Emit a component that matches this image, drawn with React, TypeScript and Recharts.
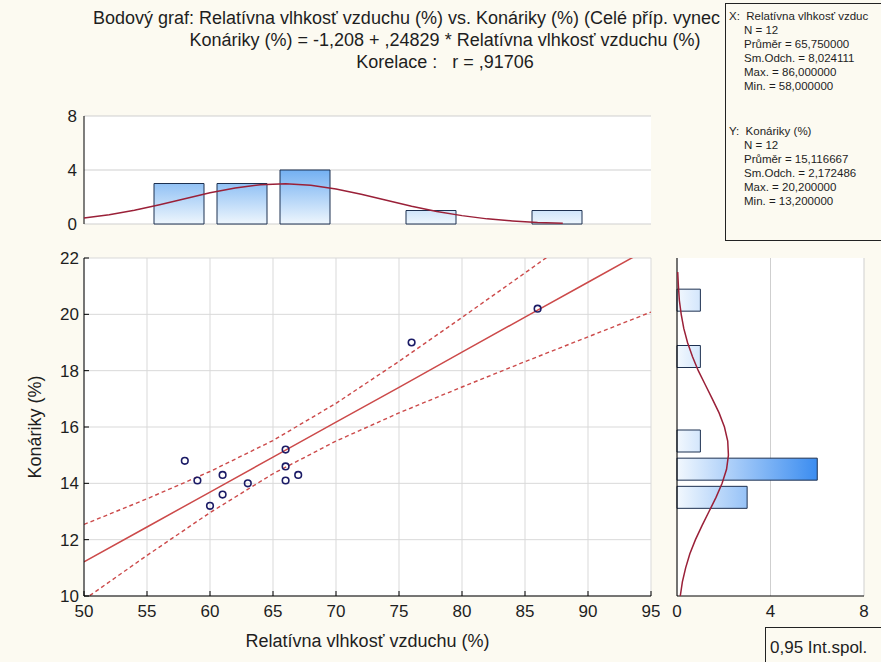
import React from 'react';
import { ComposedChart, Bar, Line, Scatter, XAxis, YAxis, CartesianGrid } from 'recharts';

const FONT = '"Liberation Sans", Arial, sans-serif';
const BG = '#fcfaf1';

// Scatter data: humidity (x) vs. branches (y)
const humidity = [58, 59, 60, 61, 61, 63, 66, 66, 66, 67, 76, 86];
const branches = [14.8, 14.1, 13.2, 14.3, 13.6, 14.0, 15.2, 14.6, 14.1, 14.3, 19.0, 20.2];

const xTicks = [50, 55, 60, 65, 70, 75, 80, 85, 90, 95];
const yTicks = [10, 12, 14, 16, 18, 20, 22];
const xMinorTicks = [51, 52, 53, 54, 56, 57, 58, 59, 61, 62, 63, 64, 66, 67, 68, 69, 71, 72, 73, 74, 76, 77, 78, 79, 81, 82, 83, 84, 86, 87, 88, 89, 91, 92, 93, 94];
const yMinorTicks = [11, 13, 15, 17, 19, 21];

// Regression line and 0.95 confidence band
const fitX = [50, 55, 60, 65, 70, 75, 80, 85, 90, 95];
const fitY = [11.21, 12.45, 13.69, 14.93, 16.17, 17.41, 18.66, 19.9, 21.14, 22.38];
const upperY = [12.54, 13.45, 14.42, 15.52, 16.84, 18.33, 19.89, 21.47, 23.07, 24.68];
const lowerY = [9.87, 11.44, 12.96, 14.34, 15.5, 16.5, 17.42, 18.32, 19.2, 20.08];

// Top histogram (humidity)
const xBinCenters = [57.5, 62.5, 67.5, 77.5, 87.5];
const xBinCounts = [3, 3, 4, 1, 1];
const xCurveX = [50, 52, 54, 56, 58, 60, 62, 64, 66, 68, 70, 72, 74, 76, 78, 80, 82, 84, 86, 88];
const xCurveV = [0.44, 0.69, 1.02, 1.43, 1.87, 2.31, 2.67, 2.91, 2.98, 2.87, 2.59, 2.2, 1.76, 1.32, 0.93, 0.62, 0.38, 0.23, 0.12, 0.06];
const topCountTicks = [0, 4, 8];

// Right histogram (branches)
const yBinCenters = [13.5, 14.5, 15.5, 18.5, 20.5];
const yBinCounts = [3, 6, 1, 1, 1];
const yCurveY = [10, 10.5, 11, 11.5, 12, 12.5, 13, 13.5, 14, 14.5, 15, 15.5, 16, 16.5, 17, 17.5, 18, 18.5, 19, 19.5, 20, 20.5, 21, 21.5];
const yCurveV = [0.14, 0.23, 0.37, 0.55, 0.79, 1.07, 1.37, 1.67, 1.93, 2.12, 2.2, 2.17, 2.03, 1.8, 1.51, 1.21, 0.91, 0.66, 0.45, 0.29, 0.18, 0.1, 0.06, 0.03];
const rightCountTicks = [0, 4, 8];

const pointRows = humidity.map((x, i) => ({ x, y: branches[i] }));
const fitRows = fitX.map((x, i) => ({ x, fit: fitY[i], upper: upperY[i], lower: lowerY[i] }));
const xBinRows = xBinCenters.map((x, i) => ({ x, count: xBinCounts[i] }));
const xCurveRows = xCurveX.map((x, i) => ({ x, v: xCurveV[i] }));
const yBinRows = yBinCenters.map((y, i) => ({ y, count: yBinCounts[i] }));
const yCurveRows = yCurveY.map((y, i) => ({ y, v: yCurveV[i] }));

const TICK_FS = 17;
const tickStyle = { fill: '#1e1e1e', fontSize: TICK_FS, fontFamily: FONT };
const noShape = () => <g />;
const ringShape = (p: any) => (
  <circle cx={p.cx} cy={p.cy} r={3.3} fill="none" stroke="#1b1b66" strokeWidth={1.6} />
);

const RED = '#cc4a4a';
const CURVE = '#9a2038';
const GRID = '#d9d9d9';

function MainChart() {
  return (
    <ComposedChart width={660} height={422} data={fitRows} margin={{ top: 18, right: 9, bottom: 0, left: 20 }}>
      <CartesianGrid stroke={GRID} fill="#fff" fillOpacity={1} />
      <XAxis xAxisId="mb" dataKey="x" type="number" domain={[50, 95]} ticks={xMinorTicks} allowDataOverflow height={0} tick={false} axisLine={false} tickSize={-2.5} stroke="#333" />
      <XAxis
        dataKey="x" type="number" domain={[50, 95]} ticks={xTicks} allowDataOverflow height={66}
        tickSize={-5} tickMargin={14} stroke="#000" tick={tickStyle}
        label={{ value: 'Relatívna vlhkosť vzduchu (%)', position: 'insideBottom', offset: 15, fill: '#1e1e1e', fontSize: 18, fontFamily: FONT }}
      />
      <XAxis xAxisId="t" dataKey="x" orientation="top" type="number" domain={[50, 95]} ticks={xTicks} allowDataOverflow height={0} tick={false} tickSize={-5} stroke="#000" />
      <XAxis xAxisId="mt" dataKey="x" orientation="top" type="number" domain={[50, 95]} ticks={xMinorTicks} allowDataOverflow height={0} tick={false} axisLine={false} tickSize={-2.5} stroke="#333" />
      <YAxis yAxisId="ml" type="number" domain={[10, 22]} ticks={yMinorTicks} allowDataOverflow width={0} tick={false} axisLine={false} tickSize={-2.5} stroke="#333" />
      <YAxis
        type="number" domain={[10, 22]} ticks={yTicks} allowDataOverflow width={64}
        tickSize={-5} tickMargin={10} stroke="#000" tick={tickStyle}
        label={{ value: 'Konáriky (%)', angle: -90, position: 'insideLeft', offset: 15, fill: '#1e1e1e', fontSize: 18, fontFamily: FONT, style: { textAnchor: 'middle' } }}
      />
      <YAxis yAxisId="r" orientation="right" type="number" domain={[10, 22]} ticks={yTicks} allowDataOverflow width={0} tick={false} tickSize={-5} stroke="#000" />
      <YAxis yAxisId="mr" orientation="right" type="number" domain={[10, 22]} ticks={yMinorTicks} allowDataOverflow width={0} tick={false} axisLine={false} tickSize={-2.5} stroke="#333" />
      <Line dataKey="upper" type="linear" stroke={RED} strokeWidth={1.4} strokeDasharray="4 3" dot={false} isAnimationActive={false} />
      <Line dataKey="lower" type="linear" stroke={RED} strokeWidth={1.4} strokeDasharray="4 3" dot={false} isAnimationActive={false} />
      <Line dataKey="fit" type="linear" stroke={RED} strokeWidth={1.5} dot={false} isAnimationActive={false} />
      <Scatter data={pointRows} dataKey="y" shape={ringShape} isAnimationActive={false} />
    </ComposedChart>
  );
}

function TopHist() {
  return (
    <ComposedChart width={660} height={140} data={xBinRows} margin={{ top: 16, right: 9, bottom: 16, left: 20 }}>
      <defs>
        <linearGradient id="gTop" gradientUnits="userSpaceOnUse" x1="0" y1="50" x2="0" y2="124">
          <stop offset="0" stopColor="#4596ee" />
          <stop offset="1" stopColor="#eef6fd" />
        </linearGradient>
      </defs>
      <CartesianGrid vertical={false} stroke="#cfcfcf" fill="#fff" fillOpacity={1} />
      <XAxis dataKey="x" type="number" domain={[50, 95]} ticks={xTicks} height={0} tick={false} tickSize={-4} stroke="#000" />
      <XAxis xAxisId="t" dataKey="x" orientation="top" type="number" domain={[50, 95]} ticks={xTicks} height={0} tick={false} tickSize={-4} stroke="#000" />
      <YAxis type="number" domain={[0, 8]} ticks={topCountTicks} width={64} tickLine={false} tickSize={0} tickMargin={7} tick={tickStyle} stroke="#000" />
      <YAxis yAxisId="r" orientation="right" type="number" domain={[0, 8]} ticks={topCountTicks} width={0} tick={false} tickSize={0} stroke="#000" />
      <Bar dataKey="count" barSize={50} fill="url(#gTop)" stroke="#1d3050" strokeWidth={1} isAnimationActive={false} />
      <Scatter data={xCurveRows} xAxisId="t" dataKey="v" shape={noShape} line={{ stroke: CURVE, strokeWidth: 1.5 }} isAnimationActive={false} />
    </ComposedChart>
  );
}

function RightHist() {
  return (
    <ComposedChart layout="vertical" width={221} height={422} data={yBinRows} margin={{ top: 18, right: 17, bottom: 0, left: 0 }}>
      <defs>
        <linearGradient id="gRight" gradientUnits="userSpaceOnUse" x1="17" y1="0" x2="158" y2="0">
          <stop offset="0" stopColor="#f2f8fe" />
          <stop offset="1" stopColor="#3a8cf0" />
        </linearGradient>
      </defs>
      <CartesianGrid horizontal={false} stroke="#cfcfcf" fill="#fff" fillOpacity={1} />
      <XAxis type="number" domain={[0, 8]} ticks={rightCountTicks} height={66} tickLine={false} tickSize={0} tickMargin={9} tick={tickStyle} stroke="#000" />
      <XAxis xAxisId="t" orientation="top" type="number" domain={[0, 8]} ticks={rightCountTicks} height={0} tick={false} tickSize={-4} stroke="#000" />
      <YAxis dataKey="y" type="number" reversed domain={[10, 22]} ticks={yTicks} width={17} tick={false} tickSize={-4} stroke="#000" />
      <YAxis yAxisId="r" dataKey="y" orientation="right" type="number" reversed domain={[10, 22]} ticks={yTicks} width={0} tick={false} tickSize={-4} stroke="#000" />
      <Bar dataKey="count" barSize={22} fill="url(#gRight)" stroke="#1d3050" strokeWidth={1} isAnimationActive={false} />
      <Scatter data={yCurveRows} yAxisId="r" dataKey="v" shape={noShape} line={{ stroke: CURVE, strokeWidth: 1.5 }} isAnimationActive={false} />
    </ComposedChart>
  );
}

const statLine: React.CSSProperties = { height: 14, lineHeight: '14px', whiteSpace: 'nowrap' };

export default function App() {
  return (
    <div style={{ position: 'absolute', left: 0, top: 0, width: 881, height: 662, background: BG, overflow: 'hidden', fontFamily: FONT, color: '#1e1e1e' }}>
      <div style={{ position: 'absolute', left: 93, top: 7, fontSize: 18, lineHeight: '22px', whiteSpace: 'pre' }}>
        Bodový graf: Relatívna vlhkosť vzduchu (%) vs. Konáriky (%) (Celé příp. vynec
      </div>
      <div style={{ position: 'absolute', left: 0, top: 29, width: 890, textAlign: 'center', fontSize: 18, lineHeight: '22px', whiteSpace: 'pre' }}>
        <div>Konáriky (%) = -1,208 + ,24829 * Relatívna vlhkosť vzduchu (%)</div>
        <div>Korelace :   r = ,91706</div>
      </div>
      <div style={{ position: 'absolute', left: 0, top: 100 }}><TopHist /></div>
      <div style={{ position: 'absolute', left: 0, top: 240 }}><MainChart /></div>
      <div style={{ position: 'absolute', left: 660, top: 240 }}><RightHist /></div>
      <div style={{ position: 'absolute', left: 725, top: 3, width: 170, height: 236, border: '1px solid #222', background: BG, fontSize: 11.5, overflow: 'hidden' }}>
        <div style={{ position: 'absolute', left: 3, top: 5 }}>
          <div style={statLine}>X:&nbsp; Relatívna vlhkosť vzduc</div>
          <div style={{ paddingLeft: 15 }}>
            <div style={statLine}>N = 12</div>
            <div style={statLine}>Průměr = 65,750000</div>
            <div style={statLine}>Sm.Odch. = 8,024111</div>
            <div style={statLine}>Max. = 86,000000</div>
            <div style={statLine}>Min. = 58,000000</div>
          </div>
        </div>
        <div style={{ position: 'absolute', left: 3, top: 120 }}>
          <div style={statLine}>Y:&nbsp; Konáriky (%)</div>
          <div style={{ paddingLeft: 15 }}>
            <div style={statLine}>N = 12</div>
            <div style={statLine}>Průměr = 15,116667</div>
            <div style={statLine}>Sm.Odch. = 2,172486</div>
            <div style={statLine}>Max. = 20,200000</div>
            <div style={statLine}>Min. = 13,200000</div>
          </div>
        </div>
      </div>
      <div style={{ position: 'absolute', left: 765, top: 627, width: 130, height: 50, border: '1px solid #222', background: BG, fontSize: 17 }}>
        <div style={{ position: 'absolute', left: 4, top: 10, whiteSpace: 'nowrap' }}>0,95 Int.spol.</div>
      </div>
    </div>
  );
}
